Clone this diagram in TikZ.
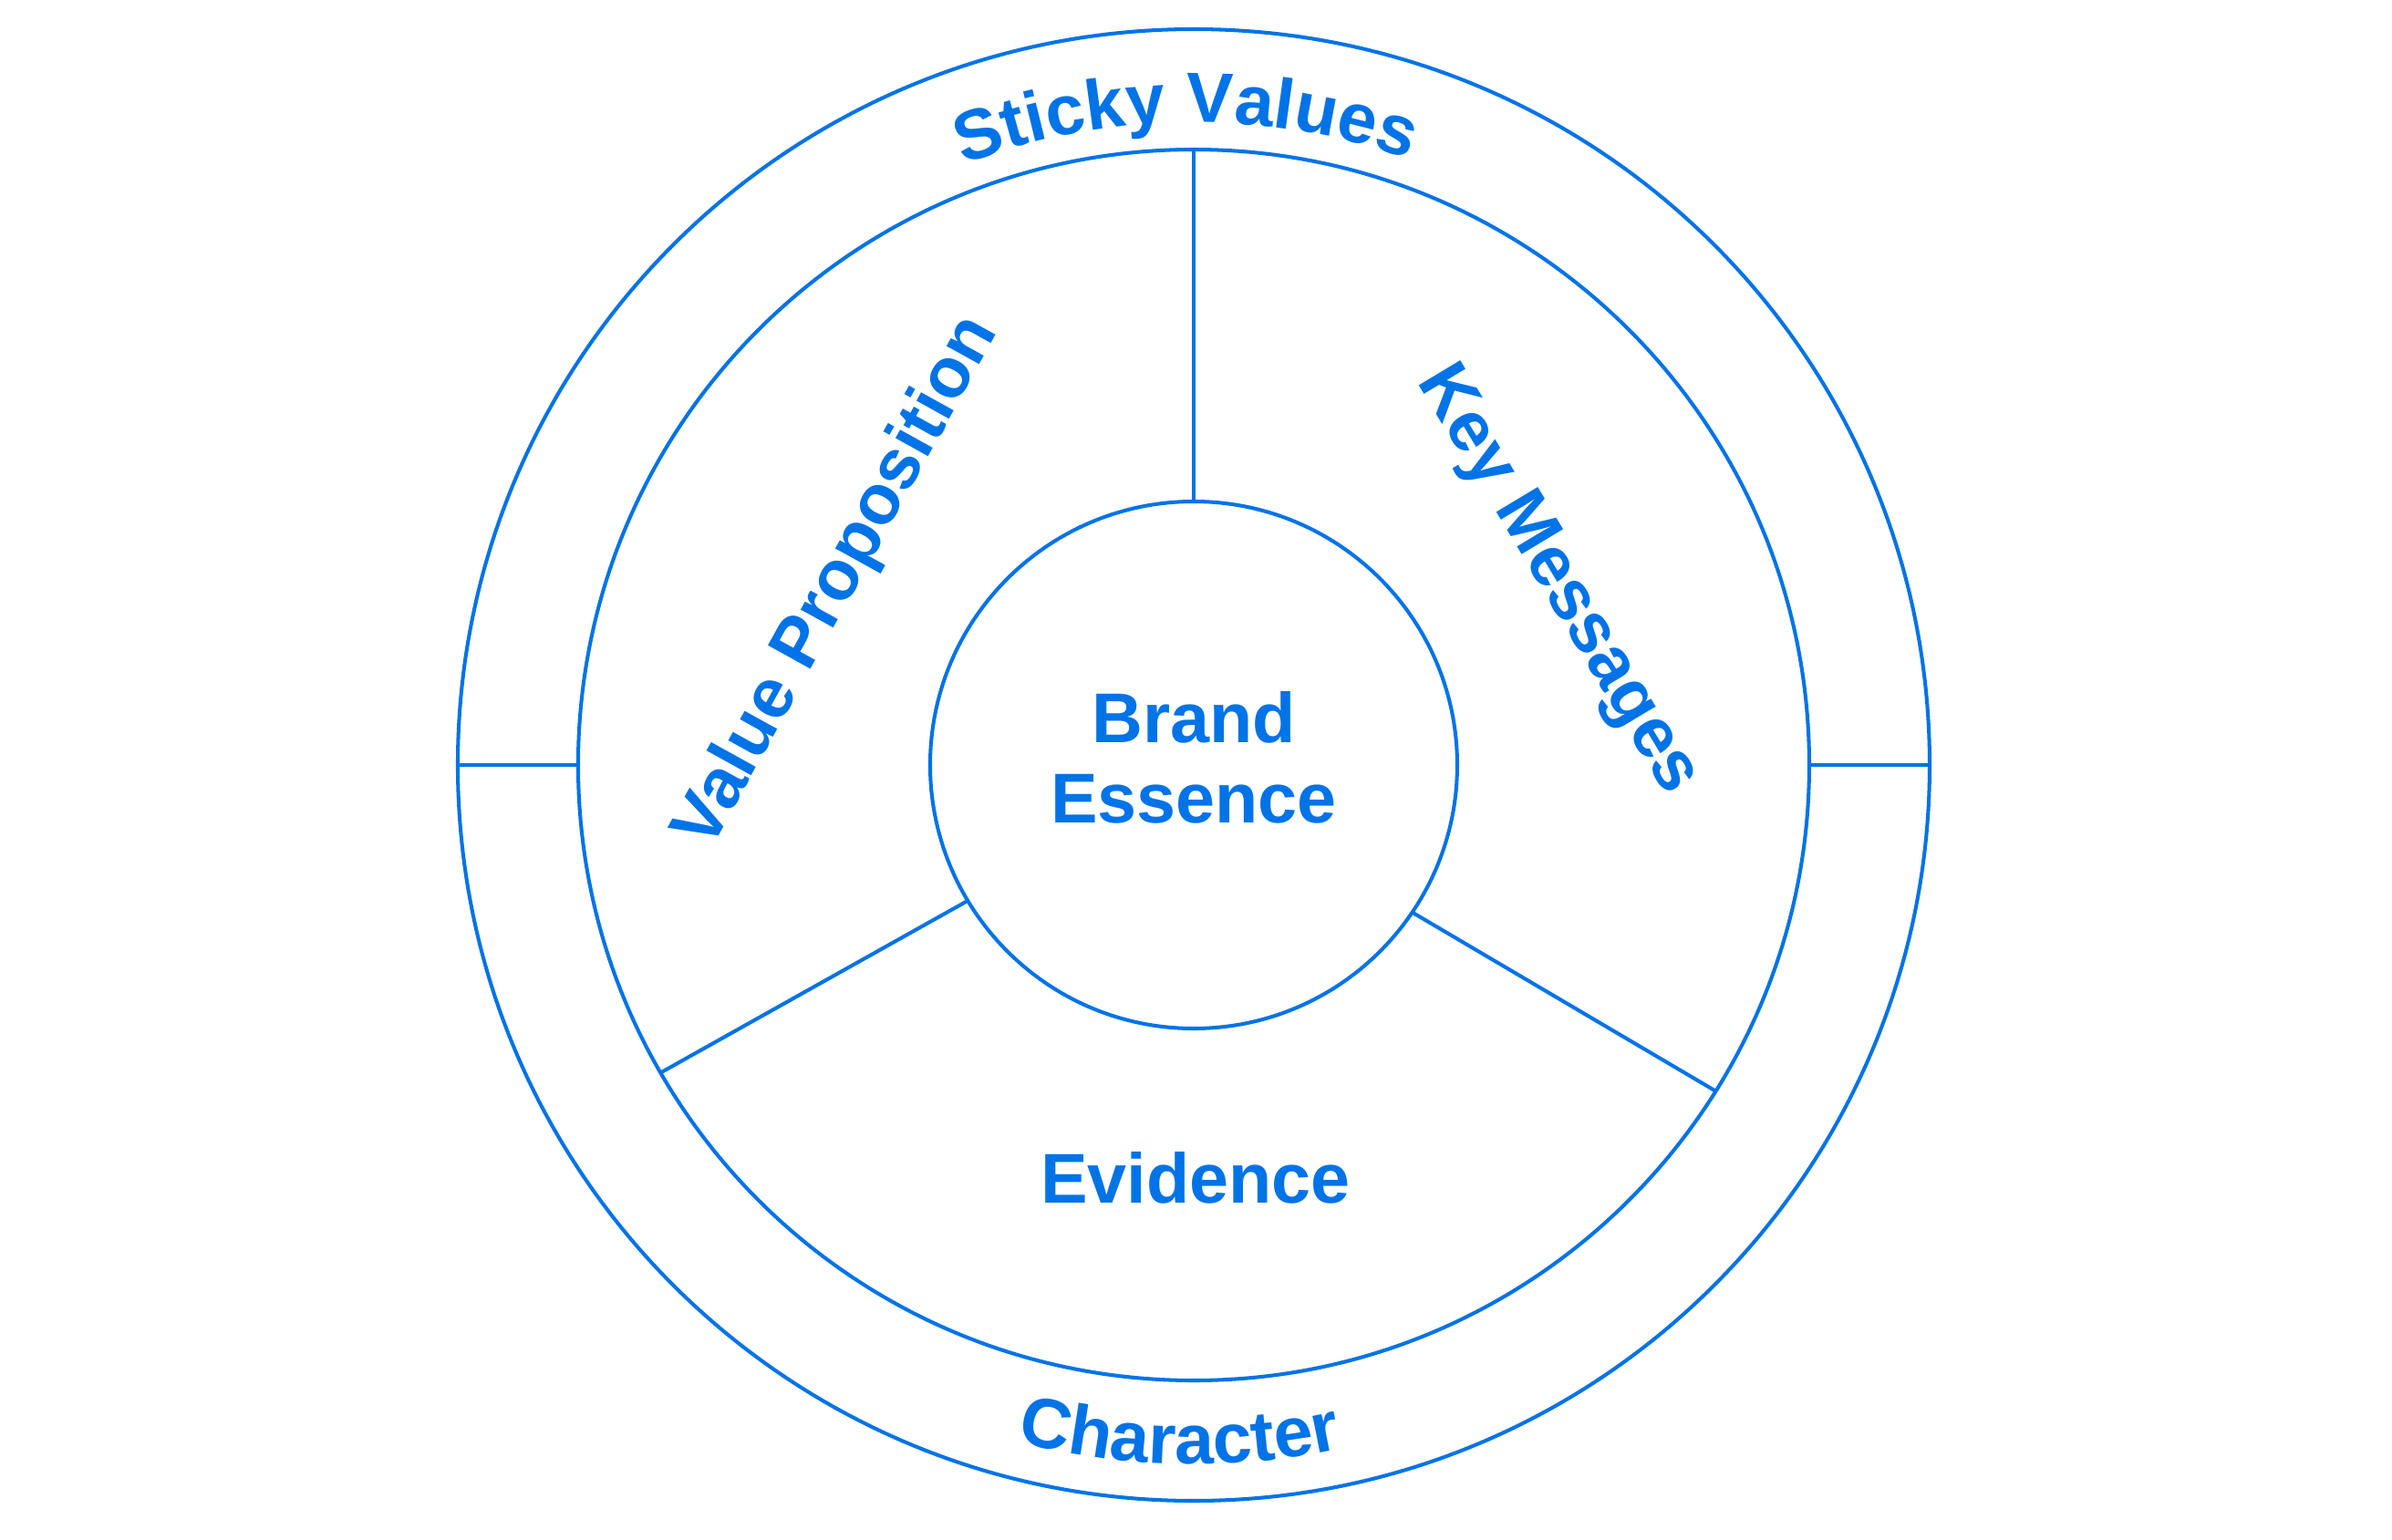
\documentclass[tikz,border=0pt]{standalone}
\usepackage{fontspec}
\setmainfont{Liberation Sans}
\usetikzlibrary{decorations.text}
\definecolor{brandblue}{HTML}{0073E6}
\newcommand{\ringfont}{\bfseries\fontsize{22}{25}\selectfont}

\begin{document}
\begin{tikzpicture}[x=1cm,y=1cm]
\tikzset{
  ring/.style={circle,draw=brandblue,line width=1.15pt,inner sep=0pt,outer sep=0pt},
  spoke/.style={draw=brandblue,line width=1.15pt},
  ringlabel/.style={text=brandblue,font=\ringfont,inner sep=0pt,align=center},
  arclabel/.style={decorate,decoration={text along path,text align=center,text color=brandblue,text={|\ringfont|#1}}}
}
\useasboundingbox (-13.09,-8.49) rectangle (13.14,8.39);
\node[ring,minimum size=16.14cm] (outer) at (0,0) {};
\node[ring,minimum size=13.50cm] (middle) at (0,0) {};
\node[ring,minimum size=5.78cm] (core) at (0,0) {};
\node[ringlabel] (essence) at (0,0.08) {Brand\\Essence};
\node[ringlabel,rotate=61] (proposition) at (-3.90,2.00) {Value Proposition};
\node[ringlabel,rotate=-59] (messages) at (3.98,2.02) {Key Messages};
\node[ringlabel,anchor=base] (evidence) at (0.02,-4.80) {Evidence};
\path[arclabel={Sticky Values}] (120.7:7.05) arc[start angle=120.7,end angle=60.7,radius=7.05];
\path[arclabel={Character}] (238.8:7.67) arc[start angle=238.8,end angle=298.8,radius=7.67];
\draw[spoke] (core.90) -- (middle.90);
\draw[spoke] (core.211.5) -- (middle.210.4);
\draw[spoke] (core.326.7) -- (middle.328.8);
\draw[spoke] (middle.180) -- (outer.180);
\draw[spoke] (middle.0) -- (outer.0);
\end{tikzpicture}
\end{document}
